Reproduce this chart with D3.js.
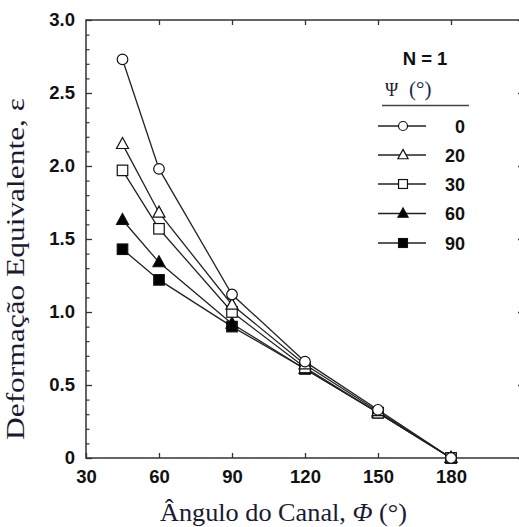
<!DOCTYPE html>
<html><head><meta charset="utf-8">
<script src="https://cdn.jsdelivr.net/npm/d3@7"></script>
<style>body{margin:0;background:#fff;} svg{display:block;}</style>
</head><body>
<svg id="c" width="519" height="527"></svg>
<script>
const angles = [45, 60, 90, 120, 150, 180];
const psi = ["0", "20", "30", "60", "90"];
const psi0 = [2.73, 1.98, 1.12, 0.66, 0.33, 0];
const psi20 = [2.15, 1.68, 1.05, 0.64, 0.32, 0];
const psi30 = [1.97, 1.57, 1.00, 0.62, 0.31, 0];
const psi60 = [1.63, 1.34, 0.92, 0.61, 0.31, 0];
const psi90 = [1.43, 1.22, 0.90, 0.61, 0.31, 0];
const xTicks = [30, 60, 90, 120, 150, 180];
const yTicks = [0, 0.5, 1.0, 1.5, 2.0, 2.5, 3.0];
const yTickLabels = ["0", "0.5", "1.0", "1.5", "2.0", "2.5", "3.0"];
const symbols = ["circle", "triangle", "square", "triangleFill", "squareFill"];

const series = [psi0, psi20, psi30, psi60, psi90].map((v, i) => ({name: psi[i], values: v, sym: symbols[i]}));

const svg = d3.select("#c");
const x = d3.scaleLinear().domain([30, 210]).range([86, 524]);
const y = d3.scaleLinear().domain([0, 3]).range([458, 20]);
const axisColor = "#333";
const sans = "'Liberation Sans', Arial, sans-serif";
const serif = "'Liberation Serif', 'Times New Roman', serif";

// frame
svg.append("rect").attr("x", x(30)).attr("y", y(3)).attr("width", x(210) - x(30)).attr("height", y(0) - y(3))
  .attr("fill", "none").attr("stroke", axisColor).attr("stroke-width", 1.5);

// bottom axis
const bx = svg.append("g").attr("transform", `translate(0,${y(0)})`)
  .call(d3.axisBottom(x).tickValues(xTicks).tickSize(-5).tickPadding(12).tickFormat(d3.format("d")));
bx.select(".domain").remove();
bx.selectAll("line").attr("stroke", axisColor).attr("stroke-width", 1.3);
bx.selectAll("text").attr("font-family", sans).attr("font-weight", "bold").attr("font-size", 18.5).attr("fill", "#111");
// top axis ticks
const tx = svg.append("g").attr("transform", `translate(0,${y(3)})`)
  .call(d3.axisTop(x).tickValues([60, 90, 120, 150, 180]).tickSize(-5).tickFormat(""));
tx.select(".domain").remove();
tx.selectAll("line").attr("stroke", axisColor).attr("stroke-width", 1.3);

// left axis
const ly = svg.append("g").attr("transform", `translate(${x(30)},0)`)
  .call(d3.axisLeft(y).tickValues(yTicks).tickSize(-6).tickPadding(11).tickFormat((d, i) => yTickLabels[i]));
ly.select(".domain").remove();
ly.selectAll("line").attr("stroke", axisColor).attr("stroke-width", 1.3);
ly.selectAll("text").attr("font-family", sans).attr("font-weight", "bold").attr("font-size", 18.5).attr("fill", "#111");
// minor ticks
const minor = d3.range(0, 3.0001, 0.1).filter(v => Math.abs(v * 2 - Math.round(v * 2)) > 1e-6);
const lm = svg.append("g").attr("transform", `translate(${x(30)},0)`)
  .call(d3.axisLeft(y).tickValues(minor).tickSize(-3.5).tickFormat(""));
lm.select(".domain").remove();
lm.selectAll("line").attr("stroke", axisColor).attr("stroke-width", 1.2);
// right axis ticks
const ry = svg.append("g").attr("transform", `translate(${x(210)},0)`)
  .call(d3.axisRight(y).tickValues(yTicks).tickSize(-6).tickFormat(""));
ry.select(".domain").remove();
ry.selectAll("line").attr("stroke", axisColor).attr("stroke-width", 1.3);

// symbols
function drawSym(g, sym, cx, cy, s) {
  const fill = sym.endsWith("Fill") ? "#000" : "#fff";
  if (sym === "circle") {
    g.append("circle").attr("cx", cx).attr("cy", cy).attr("r", 5.3 * s)
      .attr("fill", fill).attr("stroke", "#111").attr("stroke-width", 1.2);
  } else if (sym.startsWith("triangle")) {
    const h = 11 * s, w = 12 * s;
    g.append("path").attr("d", `M${cx},${cy - h * 0.6}L${cx + w / 2},${cy + h * 0.4}L${cx - w / 2},${cy + h * 0.4}Z`)
      .attr("fill", fill).attr("stroke", "#111").attr("stroke-width", 1.2);
  } else {
    const a = 10.5 * s;
    g.append("rect").attr("x", cx - a / 2).attr("y", cy - a / 2).attr("width", a).attr("height", a)
      .attr("fill", fill).attr("stroke", "#111").attr("stroke-width", 1.2);
  }
}

const line = d3.line().x((d, i) => x(angles[i])).y(d => y(d));
const lg = svg.append("g");
series.forEach(s => {
  lg.append("path").attr("d", line(s.values)).attr("fill", "none").attr("stroke", "#222").attr("stroke-width", 1.3);
});
const mg = svg.append("g");
series.slice().reverse().forEach(s => {
  s.values.forEach((v, i) => drawSym(mg, s.sym, x(angles[i]), y(v), 1));
});

// legend
const leg = svg.append("g");
leg.append("text").attr("x", 425).attr("y", 65).attr("text-anchor", "middle")
  .attr("font-family", sans).attr("font-weight", "bold").attr("font-size", 18.5).attr("fill", "#111").text("N = 1");
leg.append("text").attr("x", 385).attr("y", 96)
  .attr("font-family", serif).attr("font-size", 18).attr("fill", "#1a1a33").text("Ψ");
leg.append("text").attr("x", 409).attr("y", 96)
  .attr("font-family", serif).attr("font-size", 21).attr("fill", "#1a2a55").text("(°)");
leg.append("line").attr("x1", 382).attr("x2", 469).attr("y1", 105.5).attr("y2", 105.5)
  .attr("stroke", "#444").attr("stroke-width", 1.3);
const legY = [126, 155, 184, 213.5, 243];
series.forEach((s, i) => {
  const cy = legY[i];
  leg.append("line").attr("x1", 378).attr("x2", 426).attr("y1", cy).attr("y2", cy).attr("stroke", "#222").attr("stroke-width", 1.3);
  drawSym(leg, s.sym, 403, cy, 0.85);
  leg.append("text").attr("x", 465).attr("y", cy + 6.5).attr("text-anchor", "end")
    .attr("font-family", sans).attr("font-weight", "bold").attr("font-size", 18).attr("fill", "#111").text(s.name);
});

// axis titles
const xt = svg.append("text").attr("x", 283.5).attr("y", 521).attr("text-anchor", "middle")
  .attr("font-family", serif).attr("font-size", 26).attr("fill", "#1a1a33")
  .attr("textLength", 247).attr("lengthAdjust", "spacingAndGlyphs");
xt.append("tspan").text("Ângulo do Canal, ");
xt.append("tspan").attr("font-style", "italic").text("Φ");
xt.append("tspan").text(" (°)");

svg.append("text").attr("transform", "translate(24,269) rotate(-90)").attr("text-anchor", "middle")
  .attr("font-family", serif).attr("font-size", 26).attr("fill", "#1a1a33")
  .attr("textLength", 342).attr("lengthAdjust", "spacingAndGlyphs")
  .text("Deformação Equivalente, ε");
</script>
</body></html>
